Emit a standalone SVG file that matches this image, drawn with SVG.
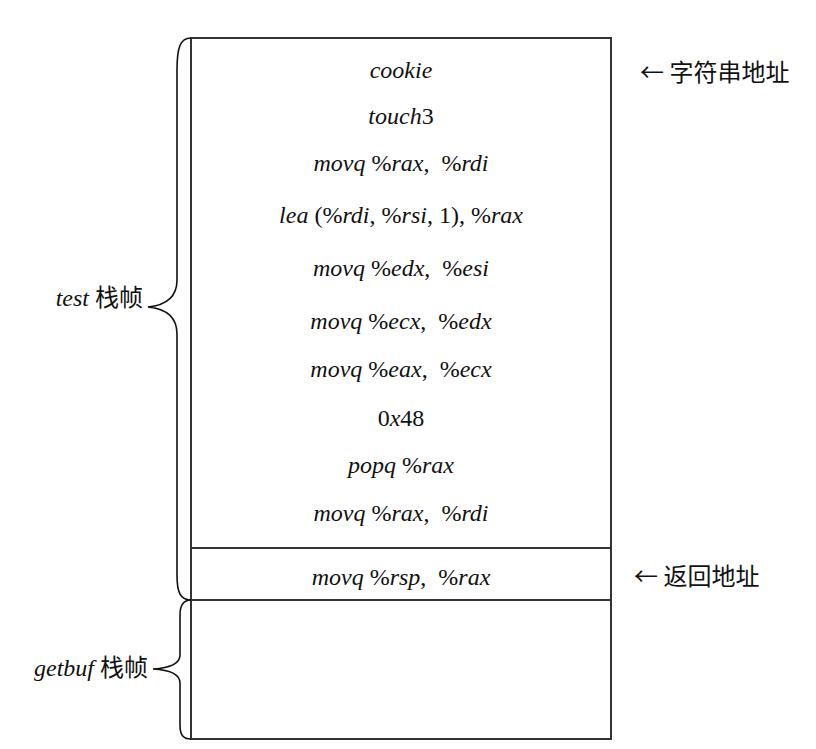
<svg xmlns="http://www.w3.org/2000/svg" width="816" height="749" viewBox="0 0 816 749">
<style>
.box{fill:none;stroke:#333;stroke-width:2}
.brace{fill:none;stroke:#111;stroke-width:1.6}
.t{font-family:"Liberation Serif","DejaVu Serif",serif;font-style:italic;font-size:24px;fill:#111;text-anchor:middle;white-space:pre}
.u{font-style:normal}
.cn{font-family:"Noto Sans CJK SC","Noto Sans",sans-serif;font-size:24px;fill:#111}
.lab{font-family:"Liberation Serif","Noto Sans CJK SC",serif;font-size:24px;fill:#111;text-anchor:end}
.z{font-family:"Noto Sans CJK SC",sans-serif;font-style:normal;font-size:24px}
</style>
<rect width="816" height="749" fill="#fff"/>
<g id="stack">
<rect class="box" x="191" y="38" width="420" height="701"/>
<line class="box" x1="191" y1="548" x2="611" y2="548"/>
<line class="box" x1="191" y1="600" x2="611" y2="600"/>
</g>
<g id="cells">
<text class="t" x="401" y="78">cookie</text>
<text class="t" x="401" y="124">touch<tspan class="u">3</tspan></text>
<text class="t" x="401" y="171">movq <tspan class="u">%</tspan>rax<tspan class="u">,  %</tspan>rdi</text>
<text class="t" x="401" y="223">lea <tspan class="u">(%</tspan>rdi<tspan class="u">, %</tspan>rsi<tspan class="u">, 1), %</tspan>rax</text>
<text class="t" x="401" y="276">movq <tspan class="u">%</tspan>edx<tspan class="u">,  %</tspan>esi</text>
<text class="t" x="401" y="329">movq <tspan class="u">%</tspan>ecx<tspan class="u">,  %</tspan>edx</text>
<text class="t" x="401" y="377">movq <tspan class="u">%</tspan>eax<tspan class="u">,  %</tspan>ecx</text>
<text class="t" x="401" y="426"><tspan class="u">0</tspan>x<tspan class="u">48</tspan></text>
<text class="t" x="401" y="473">popq <tspan class="u">%</tspan>rax</text>
<text class="t" x="401" y="521">movq <tspan class="u">%</tspan>rax<tspan class="u">,  %</tspan>rdi</text>
<text class="t" x="401" y="585">movq <tspan class="u">%</tspan>rsp<tspan class="u">,  %</tspan>rax</text>
</g>
<g id="connectors">
<path class="brace" d="M191,38 C180,38 177,48 177,70 L177,280 C177,296 168,305 148,307 C168,309 177,318 177,334 L177,575 C177,592 180,600 191,600"/>
<path class="brace" d="M191,600 C183,600 180,605 180,615 L180,655 C180,664 170,668 153,669 C170,670 180,674 180,683 L180,725 C180,735 183,739 191,739"/>
</g>
<g id="label-test">
<text class="lab" x="143" y="306"><tspan font-style="italic">test</tspan> <tspan class="z">栈帧</tspan></text>
</g>
<g id="label-getbuf">
<text class="lab" x="148" y="676"><tspan font-style="italic">getbuf</tspan> <tspan class="z">栈帧</tspan></text>
</g>
<g id="label-str">
<text class="cn" x="640" y="81">← 字符串地址</text>
</g>
<g id="label-ret">
<text class="cn" x="634" y="585">← 返回地址</text>
</g>
</svg>
